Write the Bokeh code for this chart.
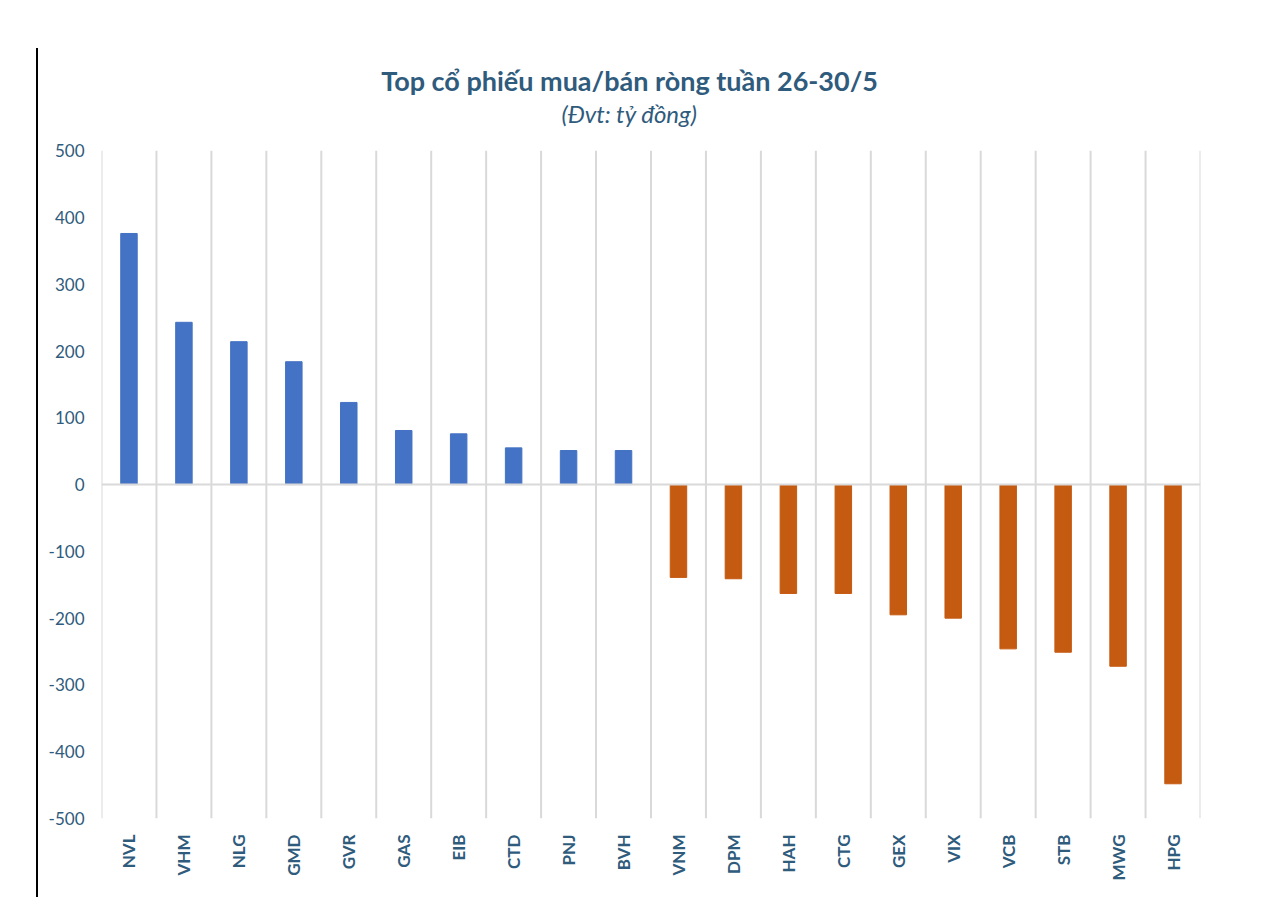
import numpy as np
from bokeh.plotting import figure
from bokeh.models import Range1d, FixedTicker, Span, Div, ColumnDataSource, Label
from bokeh.layouts import column
from bokeh.embed import file_html
from bokeh.resources import INLINE

tickers = ["NVL", "VHM", "NLG", "GMD", "GVR", "GAS", "EIB", "CTD", "PNJ", "BVH",
           "VNM", "DPM", "HAH", "CTG", "GEX", "VIX", "VCB", "STB", "MWG", "HPG"]
values = [376, 243, 214, 184, 123, 81, 76, 55, 51, 51,
          -139, -141, -163, -163, -195, -200, -246, -251, -272, -448]
y_ticks = [-500, -400, -300, -200, -100, 0, 100, 200, 300, 400, 500]

title_text = "Top cổ phiếu mua/bán ròng tuần 26-30/5"
subtitle_text = "(Đvt: tỷ đồng)"

BLUE = "#4472C4"
ORANGE = "#C55A11"
TXT = "#2F5B7C"
GRID = "#D9D9D9"
FONT = "Lato"

n = len(tickers)
xs = [i + 0.5 for i in range(n)]
colors = [BLUE if v >= 0 else ORANGE for v in values]
src = ColumnDataSource(dict(x=xs, v=values, c=colors, name=tickers))

ymin, ymax = min(y_ticks), max(y_ticks)
# frame extends above the value axis to hold the title block
p = figure(width=1276, height=895, title=None,
           x_range=Range1d(0, n), y_range=Range1d(ymin, 650),
           output_backend="svg", toolbar_location=None,
           min_border_left=101, min_border_right=76,
           min_border_top=50, min_border_bottom=77)

# category boundary gridlines (Excel style, between bars)
bounds = list(range(n + 1))
p.segment(x0=bounds, y0=[ymin] * len(bounds), x1=bounds, y1=[ymax] * len(bounds),
          line_color=GRID, line_width=2)
p.add_layout(Span(location=0, dimension="width", line_color=GRID, line_width=2))

p.vbar(x="x", top="v", bottom=0, width=0.3, color="c", source=src)

p.outline_line_color = None
p.background_fill_color = "white"
p.border_fill_color = "white"
p.xgrid.grid_line_color = None
p.ygrid.grid_line_color = None

# x axis
p.xaxis.ticker = FixedTicker(ticks=xs)
p.xaxis.major_label_overrides = {x: t for x, t in zip(xs, tickers)}
p.xaxis.major_label_orientation = np.pi / 2
p.xaxis.major_label_text_font = FONT
p.xaxis.major_label_text_font_style = "bold"
p.xaxis.major_label_text_font_size = "17px"
p.xaxis.major_label_text_color = TXT
p.xaxis.major_label_standoff = 10
p.xaxis.axis_line_color = None
p.xaxis.major_tick_line_color = None
p.xaxis.minor_tick_line_color = None

# y axis
p.yaxis.ticker = FixedTicker(ticks=y_ticks)
p.yaxis.major_label_overrides = {t: str(t) for t in y_ticks}
p.yaxis.major_label_text_font = FONT
p.yaxis.major_label_text_font_size = "17px"
p.yaxis.major_label_text_color = TXT
p.yaxis.major_label_standoff = 11
p.yaxis.axis_line_color = None
p.yaxis.major_tick_line_color = None
p.yaxis.minor_tick_line_color = None

title = Label(x=9.61, y=605, text=title_text, text_align="center", text_baseline="middle",
              text_font=FONT, text_font_style="bold", text_font_size="27px", text_color=TXT)
p.add_layout(title)
sub = Label(x=9.61, y=555, text=subtitle_text, text_align="center", text_baseline="middle",
            text_font=FONT, text_font_style="italic", text_font_size="24px", text_color=TXT)
p.add_layout(sub)

line = Div(width=1, height=1,
           text='<div style="position:fixed;left:36px;top:48px;width:2px;height:849px;background:#000;"></div>')

layout = column(p, line)
open("out.html", "w").write(file_html(layout, INLINE))
